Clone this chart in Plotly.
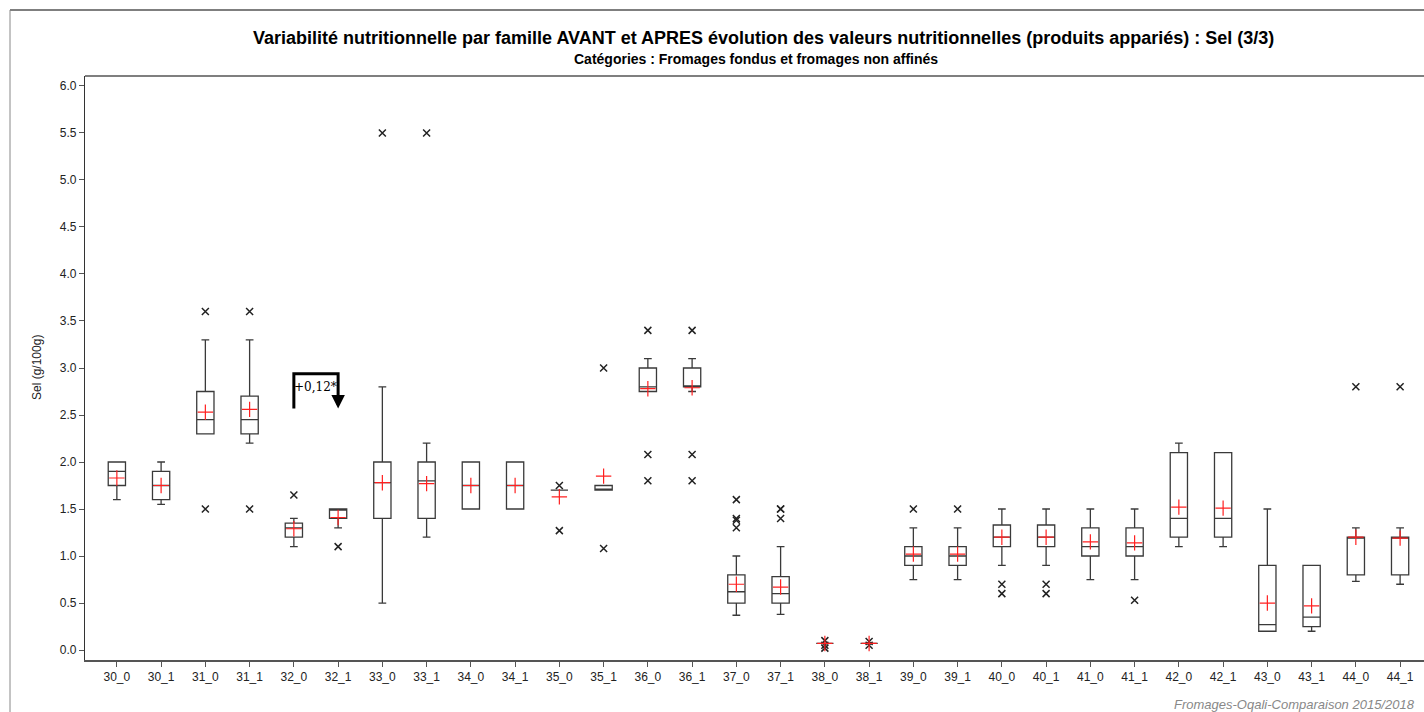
import plotly.graph_objects as go

categories = ["30_0", "30_1", "31_0", "31_1", "32_0", "32_1", "33_0", "33_1", "34_0", "34_1",
              "35_0", "35_1", "36_0", "36_1", "37_0", "37_1", "38_0", "38_1", "39_0", "39_1",
              "40_0", "40_1", "41_0", "41_1", "42_0", "42_1", "43_0", "43_1", "44_0", "44_1"]

lower_whisker = [1.6, 1.55, 2.3, 2.2, 1.1, 1.3, 0.5, 1.2, 1.5, 1.5,
                 1.7, 1.7, 2.75, 2.75, 0.37, 0.38, 0.07, 0.07, 0.75, 0.75,
                 0.9, 0.9, 0.75, 0.75, 1.1, 1.1, 0.2, 0.2, 0.73, 0.7]
q1 = [1.75, 1.6, 2.3, 2.3, 1.2, 1.4, 1.4, 1.4, 1.5, 1.5,
      1.7, 1.7, 2.75, 2.8, 0.5, 0.5, 0.07, 0.07, 0.9, 0.9,
      1.1, 1.1, 1.0, 1.0, 1.2, 1.2, 0.2, 0.25, 0.8, 0.8]
median = [1.9, 1.75, 2.45, 2.45, 1.3, 1.5, 1.78, 1.8, 1.75, 1.75,
          1.7, 1.7, 2.8, 2.8, 0.62, 0.6, 0.07, 0.07, 1.0, 1.0,
          1.2, 1.2, 1.1, 1.1, 1.4, 1.4, 0.27, 0.35, 1.2, 1.2]
q3 = [2.0, 1.9, 2.75, 2.7, 1.35, 1.5, 2.0, 2.0, 2.0, 2.0,
      1.7, 1.75, 3.0, 3.0, 0.8, 0.78, 0.07, 0.07, 1.1, 1.1,
      1.33, 1.33, 1.3, 1.3, 2.1, 2.1, 0.9, 0.9, 1.2, 1.2]
upper_whisker = [2.0, 2.0, 3.3, 3.3, 1.4, 1.5, 2.8, 2.2, 2.0, 2.0,
                 1.7, 1.75, 3.1, 3.1, 1.0, 1.1, 0.07, 0.07, 1.3, 1.3,
                 1.5, 1.5, 1.5, 1.5, 2.2, 2.1, 1.5, 0.9, 1.3, 1.3]
means = [1.83, 1.75, 2.53, 2.56, 1.29, 1.41, 1.78, 1.77, 1.75, 1.75,
         1.63, 1.85, 2.78, 2.79, 0.7, 0.67, 0.07, 0.07, 1.02, 1.02,
         1.2, 1.2, 1.15, 1.14, 1.52, 1.51, 0.5, 0.47, 1.2, 1.19]
outliers = [[], [], [3.6, 1.5], [3.6, 1.5], [1.65], [1.1], [5.5], [5.5], [], [],
            [1.75, 1.27], [3.0, 1.08], [3.4, 2.08, 1.8], [3.4, 2.08, 1.8],
            [1.6, 1.4, 1.38, 1.3], [1.5, 1.5, 1.4], [0.1, 0.05, 0.02], [0.09, 0.05],
            [1.5], [1.5], [0.7, 0.6], [0.7, 0.6], [], [0.53], [], [], [], [], [2.8], [2.8]]

y_ticks = [0.0, 0.5, 1.0, 1.5, 2.0, 2.5, 3.0, 3.5, 4.0, 4.5, 5.0, 5.5, 6.0]
annot_from, annot_to, annot_text = "32_0", "32_1", "+0,12*"
annot_y_low, annot_y_high = 2.57, 2.94

title = "Variabilité nutritionnelle par famille AVANT et APRES évolution des valeurs nutritionnelles (produits appariés) : Sel (3/3)"
subtitle = "Catégories : Fromages fondus et fromages non affinés"
y_title = "Sel (g/100g)"
footer = "Fromages-Oqali-Comparaison 2015/2018"

FONT = "Liberation Sans, Arial, sans-serif"

fig = go.Figure()
fig.add_trace(go.Box(
    x=categories, q1=q1, median=median, q3=q3,
    lowerfence=lower_whisker, upperfence=upper_whisker,
    boxpoints=False, width=0.39, whiskerwidth=0.45,
    line=dict(color="#3a3a3a", width=1.3), fillcolor="rgba(255,255,255,0)",
    showlegend=False, hoverinfo="skip"))

ox, oy = [], []
for c, vals in zip(categories, outliers):
    for v in vals:
        ox.append(c)
        oy.append(v)
fig.add_trace(go.Scatter(
    x=ox, y=oy, mode="markers", showlegend=False,
    marker=dict(symbol="x-thin-open", size=7, color="#222222",
                line=dict(color="#222222", width=1.5))))

fig.add_trace(go.Scatter(
    x=categories, y=means, mode="markers", showlegend=False,
    marker=dict(symbol="cross-thin-open", size=11, color="#ff2020",
                line=dict(color="#ff2020", width=1.2))))

i0 = categories.index(annot_from)
i1 = categories.index(annot_to)
fig.add_shape(type="path", xref="x", yref="y",
              path=f"M {i0},{annot_y_low} L {i0},{annot_y_high} L {i1},{annot_y_high} L {i1},{annot_y_low + 0.06}",
              line=dict(color="black", width=3))
fig.add_annotation(x=i1, y=annot_y_low, xref="x", yref="y", ax=i1, ay=annot_y_low + 0.1,
                   axref="x", ayref="y", showarrow=True, arrowhead=2, arrowsize=0.9,
                   arrowwidth=3, arrowcolor="black", text="")
fig.add_annotation(x=(i0 + i1) / 2 - 0.02, y=(annot_y_low + annot_y_high) / 2 + 0.04, xref="x", yref="y",
                   xanchor="center", yanchor="middle",
                   text=annot_text, showarrow=False,
                   font=dict(family="DejaVu Serif, Liberation Serif, serif", size=12, color="black"))

W, H = 1424, 712
L, R, T, B = 85, 0, 76, 52
pw, ph = W - L - R, H - T - B

def px_x(p):
    return (p - L) / pw

def px_y(p):
    return (H - B - p) / ph

# outer frame (left and top edges)
fig.add_shape(type="line", xref="paper", yref="paper", x0=px_x(10), x1=px_x(1430),
              y0=px_y(10), y1=px_y(10), line=dict(color="#555555", width=1.5))
fig.add_shape(type="line", xref="paper", yref="paper", x0=px_x(10), x1=px_x(10),
              y0=px_y(10), y1=px_y(720), line=dict(color="#888888", width=1))
# top of plot box
fig.add_shape(type="line", xref="paper", yref="paper", x0=0, x1=1.01,
              y0=1, y1=1, line=dict(color="#555555", width=1.5))

fig.add_annotation(xref="paper", yref="paper", x=px_x(763), y=px_y(38), text=f"<b>{title}</b>",
                   xanchor="center", yanchor="middle",
                   showarrow=False, font=dict(family=FONT, size=18, color="black"))
fig.add_annotation(xref="paper", yref="paper", x=px_x(756), y=px_y(59), text=f"<b>{subtitle}</b>",
                   xanchor="center", yanchor="middle",
                   showarrow=False, font=dict(family=FONT, size=14, color="black"))
fig.add_annotation(xref="paper", yref="paper", x=px_x(37), y=px_y(368), text=y_title, textangle=-90,
                   xanchor="center", yanchor="middle",
                   showarrow=False, font=dict(family=FONT, size=12, color="#222222"))
fig.add_annotation(xref="paper", yref="paper", x=px_x(1172), y=px_y(704), text=f"<i>{footer}</i>",
                   xanchor="left", yanchor="middle", showarrow=False,
                   font=dict(family=FONT, size=13, color="#888888"))

fig.update_layout(
    width=W, height=H, margin=dict(l=L, r=R, t=T, b=B),
    paper_bgcolor="white", plot_bgcolor="white",
    font=dict(family=FONT, size=12, color="#222222"),
    xaxis=dict(type="category", categoryorder="array", categoryarray=categories,
               range=[-0.72, 29.54], showgrid=False, zeroline=False,
               showline=True, linecolor="#555555", linewidth=1.5,
               ticks="outside", ticklen=5, tickcolor="#555555",
               tickfont=dict(size=12, color="#222222")),
    yaxis=dict(range=[-0.106, 6.106], tickvals=y_ticks, ticktext=[f"{v:.1f}" for v in y_ticks],
               showgrid=False, zeroline=False, showline=True, linecolor="#333333", linewidth=1.2,
               ticks="outside", ticklen=5, tickcolor="#555555",
               tickfont=dict(size=12, color="#222222")),
)

fig.write_html("out.html", config={"displayModeBar": False},
               post_script="document.body.style.margin='0';document.body.style.overflow='hidden';")
